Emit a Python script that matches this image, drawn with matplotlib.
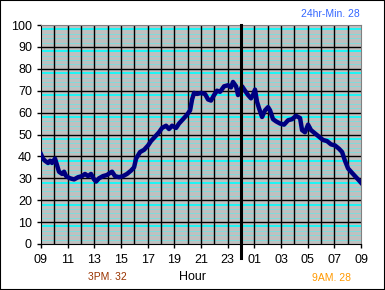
import matplotlib.pyplot as plt
from matplotlib.patches import Rectangle

# hours since 09:00 and temperature readings
hours = [0.00, 0.15, 0.30, 0.53, 0.68, 0.83, 1.05, 1.20, 1.35, 1.58, 1.73, 1.88,
         2.18, 2.48, 2.78, 3.08, 3.30, 3.53, 3.75, 3.98, 4.13, 4.35, 4.65, 4.95,
         5.18, 5.33, 5.55, 5.85, 6.15, 6.45, 6.75, 6.98, 7.13, 7.43, 7.73, 8.03,
         8.25, 8.55, 8.85, 9.08, 9.38, 9.60, 9.83, 10.13, 10.35, 10.65, 10.95, 11.18,
         11.33, 11.48, 11.70, 12.00, 12.30, 12.53, 12.75, 12.98, 13.20, 13.43, 13.73, 14.03,
         14.25, 14.40, 14.63, 14.78, 14.93, 15.08, 15.30, 15.53, 15.75, 15.90, 16.05, 16.20,
         16.35, 16.58, 16.80, 17.03, 17.18, 17.40, 17.63, 17.93, 18.23, 18.53, 18.83, 19.13,
         19.43, 19.58, 19.80, 20.03, 20.25, 20.55, 20.85, 21.15, 21.45, 21.75, 22.05, 22.35,
         22.58, 22.80, 23.03, 23.25, 23.55, 23.78, 24.00]
temps = [41, 39, 38, 37, 38, 37, 39, 36, 33, 32, 33, 31,
         30, 29.5, 30.5, 31, 32, 31, 32, 29.5, 28.5, 30, 31, 31.5,
         32.5, 33, 31, 30.5, 31, 32, 33.5, 35, 39, 42, 43, 45,
         47, 49, 51, 53, 54, 52.5, 54, 53, 55, 57, 59, 61,
         66, 69, 68.5, 69, 68.5, 66, 65.5, 68, 70, 69.5, 72, 72.5,
         71.5, 74, 72, 68, 70, 72, 70, 68, 66.5, 68, 70.5, 65,
         62, 58, 61, 62.5, 61, 57, 56, 55, 54.5, 56.5, 57, 58.5,
         57.5, 52, 51, 54.5, 52, 50.5, 49, 47.5, 47, 45.5, 45, 43.5,
         42, 38, 34.5, 33, 31, 29.5, 28]

tick_hours = list(range(0, 25, 2))
tick_labels = ['09', '11', '13', '15', '17', '19', '21', '23', '01', '03', '05', '07', '09']
midnight = 15

plt.rcParams['font.family'] = ['Liberation Sans', 'DejaVu Sans']

fig = plt.figure(figsize=(3.85, 2.9), dpi=100)
fig.patch.set_facecolor('white')
fig.add_artist(Rectangle((0, 0), 1, 1, transform=fig.transFigure, fill=False,
                         edgecolor='black', linewidth=1.5))

ax = fig.add_axes([41 / 385, 46 / 290, 320 / 385, 219 / 290])
ax.set_facecolor('#C0C0C0')
ax.set_xlim(0, 24)
ax.set_ylim(0, 100)

# minor cyan gridlines every 2 units
for v in range(2, 100, 2):
    if v % 10 == 0:
        continue
    if v % 10 == 8:
        ax.axhline(v, color='#00FFFF', linewidth=1.2, zorder=1)
    else:
        ax.axhline(v, color='#66E6E6', linewidth=0.5, zorder=1)
for v in range(10, 100, 10):
    ax.axhline(v, color='black', linewidth=1, zorder=2)
for h in range(1, 24):
    ax.axvline(h, color='black', linewidth=1, zorder=2)

ax.plot([midnight, midnight], [-6.5, 100], color='black', linewidth=2.2,
        clip_on=False, zorder=4)

ax.plot(hours, temps, color='#000080', linewidth=3.2, zorder=3,
        solid_joinstyle='round')

ax.set_xticks(tick_hours)
ax.set_xticklabels(tick_labels)
ax.set_yticks(range(0, 101, 10))
ax.tick_params(axis='both', labelsize=9, length=3, width=1, color='black')
ax.tick_params(axis='x', pad=4)

for s in ['top', 'right']:
    ax.spines[s].set_color('#808080')
for s in ['left', 'bottom']:
    ax.spines[s].set_color('black')

fig.text(193 / 385, 1 - 277 / 290, 'Hour', ha='center', va='center', fontsize=9)
fig.text(107 / 385, 1 - 277 / 290, '3PM. 32', ha='center', va='center',
         fontsize=7.5, color='#993300')
fig.text(332 / 385, 1 - 278 / 290, '9AM. 28', ha='center', va='center',
         fontsize=7.5, color='#FF9900')
fig.text(330 / 385, 1 - 14 / 290, '24hr-Min. 28', ha='center', va='center',
         fontsize=7.5, color='#3366FF')

fig.savefig('out.png', dpi=100)
